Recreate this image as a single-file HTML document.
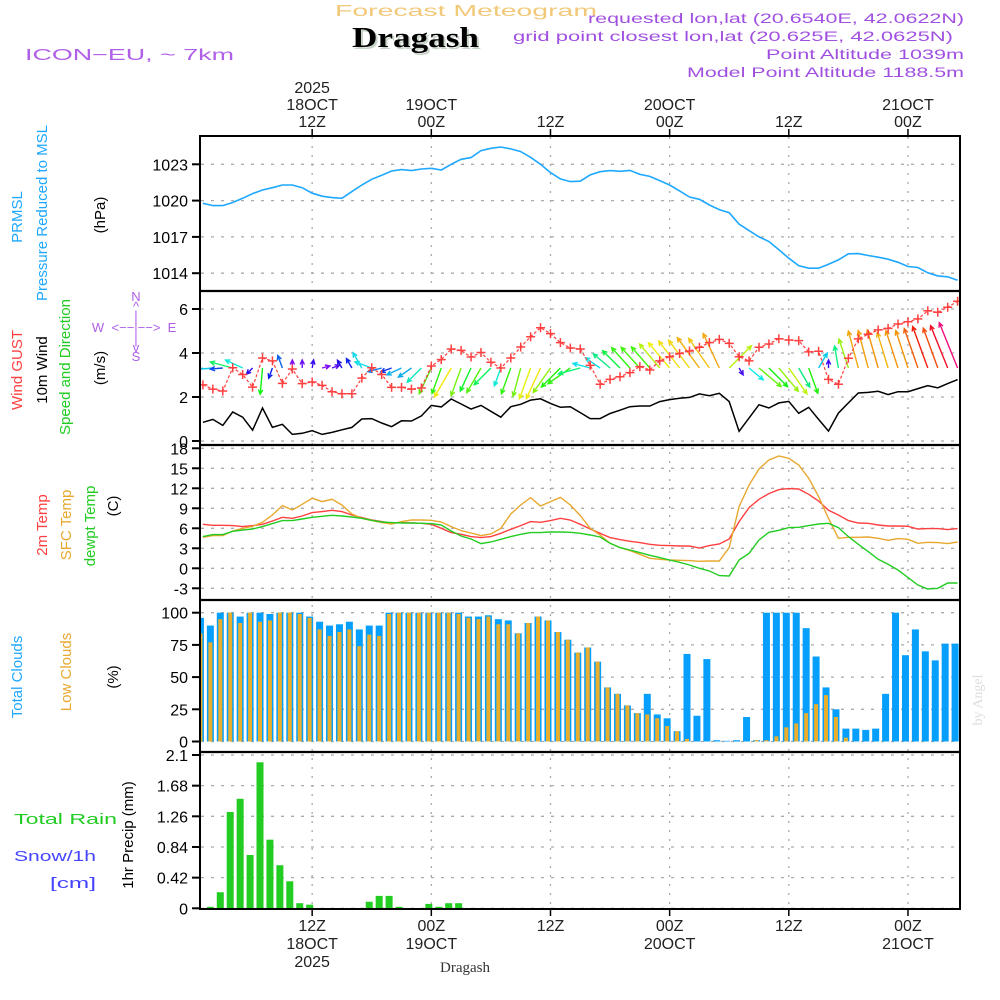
<!DOCTYPE html>
<html><head><meta charset="utf-8"><title>Forecast Meteogram Dragash</title>
<style>
html,body{margin:0;padding:0;background:#fff;}
svg{display:block;font-family:"Liberation Sans",sans-serif;}
</style></head>
<body>
<svg id="chart" width="1000" height="1000" viewBox="0 0 1000 1000" xmlns="http://www.w3.org/2000/svg">
<defs>
<clipPath id="clipPlot"><rect x="201" y="137" width="758" height="771"/></clipPath>
</defs>
<rect x="0" y="0" width="1000" height="1000" fill="#fff"/>
<text x="335" y="16" font-size="16" fill="#f2c879" textLength="262" lengthAdjust="spacingAndGlyphs">Forecast Meteogram</text>
<text x="354" y="49" font-size="28" font-weight="bold" font-family="Liberation Serif,serif" fill="#c8d4c8" textLength="127" lengthAdjust="spacingAndGlyphs">Dragash</text>
<text x="352" y="47" font-size="28" font-weight="bold" font-family="Liberation Serif,serif" fill="#000" textLength="127" lengthAdjust="spacingAndGlyphs">Dragash</text>
<text x="25" y="60" font-size="16" fill="#b060e8" textLength="209" lengthAdjust="spacingAndGlyphs">ICON−EU, ~ 7km</text>
<g fill="#a050e0" font-size="14" text-anchor="end">
<text x="964" y="23" textLength="376" lengthAdjust="spacingAndGlyphs">requested lon,lat (20.6540E, 42.0622N)</text>
<text x="953" y="41" textLength="440" lengthAdjust="spacingAndGlyphs">grid point closest lon,lat (20.625E, 42.0625N)</text>
<text x="964" y="59" textLength="198" lengthAdjust="spacingAndGlyphs">Point Altitude 1039m</text>
<text x="964" y="77" textLength="277" lengthAdjust="spacingAndGlyphs">Model Point Altitude 1188.5m</text>
</g>
<g id="grid"></g>
<g id="marks" clip-path="url(#clipPlot)"></g>
<g id="axes"></g>
<g id="labels">
<text transform="translate(22,217) rotate(-90)" text-anchor="middle" font-size="15" fill="#1ea8ff">PRMSL</text>
<text transform="translate(47,213) rotate(-90)" text-anchor="middle" font-size="15" fill="#1ea8ff">Pressure Reduced to MSL</text>
<text transform="translate(105,215) rotate(-90)" text-anchor="middle" font-size="15" fill="#000">(hPa)</text>
<text transform="translate(22,370) rotate(-90)" text-anchor="middle" font-size="15" fill="#ff4040">Wind GUST</text>
<text transform="translate(47,370) rotate(-90)" text-anchor="middle" font-size="15" fill="#000">10m Wind</text>
<text transform="translate(70,367) rotate(-90)" text-anchor="middle" font-size="15" fill="#22cc22">Speed and Direction</text>
<text transform="translate(105,368) rotate(-90)" text-anchor="middle" font-size="15" fill="#000">(m/s)</text>
<g fill="#b060e8" font-size="13" text-anchor="middle">
<text x="136" y="301">N</text><text x="136" y="311">^</text><text x="136" y="320">|</text>
<text x="98" y="332">W</text><text x="136" y="332">&lt;−−|−−&gt;</text><text x="172" y="332">E</text>
<text x="136" y="344">|</text><text x="136" y="352">v</text><text x="136" y="361">S</text>
</g>
<text transform="translate(47,525) rotate(-90)" text-anchor="middle" font-size="15" fill="#ff4040">2m Temp</text>
<text transform="translate(71,525) rotate(-90)" text-anchor="middle" font-size="15" fill="#e8a830">SFC Temp</text>
<text transform="translate(95,526) rotate(-90)" text-anchor="middle" font-size="15" fill="#22cc22">dewpt Temp</text>
<text transform="translate(118,506) rotate(-90)" text-anchor="middle" font-size="15" fill="#000">(C)</text>
<text transform="translate(22,677) rotate(-90)" text-anchor="middle" font-size="15" fill="#1ea8ff">Total Clouds</text>
<text transform="translate(71,672) rotate(-90)" text-anchor="middle" font-size="15" fill="#e8a830">Low Clouds</text>
<text transform="translate(118,677) rotate(-90)" text-anchor="middle" font-size="15" fill="#000">(%)</text>
<text x="14" y="824" font-size="15" fill="#22cc22" textLength="103" lengthAdjust="spacingAndGlyphs">Total  Rain</text>
<text x="14" y="861" font-size="15" fill="#4444ff" textLength="82" lengthAdjust="spacingAndGlyphs">Snow/1h</text>
<text x="50" y="888" font-size="15" fill="#4444ff" textLength="46" lengthAdjust="spacingAndGlyphs">[cm]</text>
<text transform="translate(133,835) rotate(-90)" text-anchor="middle" font-size="15" fill="#000">1hr Precip (mm)</text>
<text x="465" y="972" text-anchor="middle" font-size="15" font-family="Liberation Serif,serif" fill="#333">Dragash</text>
<text transform="translate(982,700) rotate(-90)" text-anchor="middle" font-size="14" font-family="Liberation Serif,serif" fill="#dddddd">by Angel</text>
</g>
</svg>
<script>
var pressure=[1019.78,1019.59,1019.59,1019.84,1020.19,1020.58,1020.88,1021.07,1021.29,1021.29,1021.07,1020.61,1020.36,1020.25,1020.19,1020.74,1021.29,1021.76,1022.09,1022.45,1022.56,1022.48,1022.61,1022.67,1022.53,1023.0,1023.41,1023.55,1024.13,1024.32,1024.43,1024.27,1024.05,1023.58,1023.0,1022.31,1021.79,1021.57,1021.6,1022.12,1022.39,1022.48,1022.42,1022.5,1022.17,1022.0,1021.65,1021.29,1020.8,1020.3,1020.11,1019.64,1019.26,1019.0,1018.05,1017.52,1017.0,1016.62,1015.93,1015.24,1014.63,1014.41,1014.41,1014.74,1015.1,1015.6,1015.62,1015.46,1015.32,1015.16,1014.9,1014.55,1014.47,1014.03,1013.78,1013.7,1013.42];
var wind10=[0.85,0.98,0.71,1.32,1.08,0.49,1.5,0.62,0.76,0.30,0.35,0.47,0.30,0.39,0.51,0.62,1.0,1.02,0.82,0.65,0.92,0.91,1.14,1.62,1.55,1.91,1.68,1.45,1.62,1.35,1.08,1.56,1.67,1.86,1.92,1.71,1.53,1.56,1.29,1.02,1.02,1.25,1.40,1.56,1.59,1.59,1.79,1.88,1.94,1.98,2.14,2.06,2.17,1.79,0.44,1.05,1.65,1.50,1.73,1.80,1.26,1.53,0.98,0.45,1.27,1.73,2.18,2.21,2.26,2.11,2.24,2.24,2.38,2.52,2.42,2.61,2.79];
var windDir=[200,185,185,165,155,225,265,250,110,90,90,80,15,20,120,120,120,160,195,200,205,215,225,245,250,240,250,245,240,225,250,250,255,250,245,235,225,215,195,165,145,140,135,132,132,131,130,130,128,127,126,125,115,45,300,320,320,315,310,305,300,290,60,90,100,108,105,105,106,107,108,108,109,110,110,112,112];
var gust=[2.55,2.36,2.27,3.33,3.02,2.45,3.77,3.64,2.62,3.27,2.61,2.68,2.53,2.24,2.15,2.15,2.86,3.33,3.02,2.44,2.44,2.36,2.41,3.41,3.70,4.18,4.12,3.82,4.02,3.58,3.32,3.77,4.27,4.74,5.15,4.88,4.47,4.23,4.18,3.44,2.58,2.80,2.92,3.11,3.38,3.23,3.64,3.83,3.98,4.09,4.26,4.47,4.62,4.44,3.83,3.64,4.26,4.41,4.65,4.59,4.56,4.05,4.08,2.80,2.58,3.76,4.64,4.85,5.05,5.12,5.32,5.42,5.55,5.92,5.85,6.08,6.35];
var t2m=[6.6,6.45,6.45,6.4,6.25,6.4,6.6,7.1,7.65,7.5,7.85,8.35,8.5,8.7,8.5,8.0,7.6,7.25,7.0,6.75,6.85,6.8,6.75,6.6,6.0,5.35,5.1,4.75,4.6,4.75,5.25,5.85,6.4,7.0,6.9,7.15,7.5,7.25,6.6,5.9,5.25,4.6,4.3,4.05,3.85,3.6,3.45,3.4,3.35,3.35,3.05,3.4,3.65,4.4,7.0,9.1,10.35,11.2,11.8,11.95,11.9,11.1,10.1,8.7,8.0,7.15,6.8,6.75,6.5,6.35,6.35,6.3,5.9,5.95,5.95,5.8,5.95];
var sfcT=[4.65,4.9,4.9,5.6,6.0,6.3,6.9,8.0,9.4,8.75,9.6,10.5,10.0,10.35,9.5,8.15,7.5,7.15,6.85,6.65,7.0,7.25,7.25,7.2,6.95,6.25,5.65,5.3,4.9,5.15,6.0,8.15,9.5,10.6,9.35,10.0,10.65,9.5,7.9,6.0,5.0,3.75,3.1,2.65,2.1,1.5,1.35,1.25,1.2,1.15,1.05,1.1,1.1,3.1,9.25,12.5,14.9,16.25,16.85,16.5,15.5,13.5,10.75,7.5,4.5,4.65,4.65,4.7,4.5,4.2,4.45,4.35,3.75,3.9,3.85,3.7,3.95];
var dewT=[4.75,5.05,5.05,5.55,5.75,5.9,6.25,6.7,7.15,7.15,7.4,7.65,7.8,7.95,7.85,7.7,7.5,7.2,6.95,6.85,6.8,6.8,6.75,6.7,6.5,5.6,4.85,4.4,3.7,3.95,4.35,4.75,5.1,5.35,5.35,5.45,5.45,5.4,5.25,5.0,4.7,3.75,3.1,2.75,2.35,1.95,1.6,1.25,0.9,0.5,0,-0.4,-1.1,-1.15,1.25,2.25,4.25,5.4,5.7,6.1,6.15,6.4,6.65,6.75,6.1,4.75,3.6,2.5,1.35,0.6,-0.25,-1.4,-2.5,-3.1,-3.0,-2.2,-2.2];
var totalClouds=[96,90,100,100,97,100,100,99,100,100,100,97,93,90,91,93,87,90,90,100,100,100,100,100,100,100,100,97,97,98,95,94,84,92,97,94,85,79,69,73,62,42,37,28,22,37,21,18,8,68,20,64,1,0.5,1,19,1,100,100,100,100,88,66,42,25,10,10,9,10,37,100,67,87,70,63,76,76];
var lowClouds=[84,77,95,100,92,100,93,94,100,100,99,96,87,82,85,87,74,83,82,99,100,100,100,100,100,100,99,96,95,97,91,91,84,92,97,94,85,79,69,73,62,42,37,28,22,21,18,12,8,2,0,0,0,0,0,0,1,1,4,11,14,22,29,36,19,3,0,0,0,0,0,0,0,0,0,0,0];
var precip=[0,0.02,0.22,1.32,1.50,0.73,2.0,0.94,0.59,0.37,0.07,0.05,0,0,0,0,0,0.09,0.17,0.17,0.02,0,0,0.06,0.02,0.07,0.07,0,0,0,0,0,0,0,0,0,0,0,0,0,0,0,0,0,0,0,0,0,0,0,0,0,0,0,0,0,0,0,0,0,0,0,0,0,0,0,0,0,0,0,0,0,0,0,0,0,0];
var pressTicks=[1014,1017,1020,1023];
var windTicks=[0,2,4,6];
var tempTicks=[-3,0,3,6,9,12,15,18];
var cloudTicks=[0,25,50,75,100];
var precipTicks=[0,0.42,0.84,1.26,1.68,2.1];
var precipTickLabels=["0","0.42","0.84","1.26","1.68","2.1"];
var timeTickHours=[12,24,36,48,60,72];
var topLabels=[["2025","18OCT","12Z"],["","19OCT","00Z"],["","","12Z"],["","20OCT","00Z"],["","","12Z"],["","21OCT","00Z"]];
var bottomLabels=[["12Z","18OCT","2025"],["00Z","19OCT",""],["12Z","",""],["00Z","20OCT",""],["12Z","",""],["00Z","21OCT",""]];

var NS="http://www.w3.org/2000/svg";
function xH(n){return 193+9.93*n;}
function yP(v){return 164.3+(1023-v)*12.1;}
function yW(v){return 441-22*v;}
function yT(v){return 568.3-6.667*v;}
function yC(v){return 741.5-1.288*v;}
function yR(v){return 908.3-73*v;}
function mk(tag,attrs,parent){var e=document.createElementNS(NS,tag);for(var k in attrs)e.setAttribute(k,attrs[k]);parent.appendChild(e);return e;}
var grid=document.getElementById('grid'),marks=document.getElementById('marks'),axes=document.getElementById('axes');

var panels=[{top:137,bot:290,ticks:pressTicks,fy:yP,labs:pressTicks.map(String),name:'pressure'},
{top:291,bot:445,ticks:windTicks,fy:yW,labs:windTicks.map(String),name:'wind'},
{top:445,bot:600,ticks:tempTicks,fy:yT,labs:tempTicks.map(String),name:'temp'},
{top:600,bot:752,ticks:cloudTicks,fy:yC,labs:cloudTicks.map(String),name:'cloud'},
{top:752,bot:908,ticks:precipTicks,fy:yR,labs:precipTickLabels,name:'precip'}];

panels.forEach(function(p){
  p.ticks.forEach(function(v,i){
    var y=p.fy(v);
    var g=mk('line',{x1:201,x2:959,y1:y,y2:y,stroke:'#aaa','stroke-width':1.3,'stroke-dasharray':'3,7'},grid);
    
    
    var t=mk('line',{x1:192,x2:200,y1:y,y2:y,stroke:'#000','stroke-width':2},axes);
    
    
    var tx=mk('text',{x:188,y:y+6,'text-anchor':'end','font-size':16,fill:'#000'},axes);
    tx.textContent=p.labs[i];
    
    
  });
});
timeTickHours.forEach(function(h,i){
  var x=xH(h);
  var g=mk('line',{x1:x,x2:x,y1:137,y2:908,stroke:'#aaa','stroke-width':1.3,'stroke-dasharray':'2,7'},grid);
  
  
  var t1=mk('line',{x1:x,x2:x,y1:129,y2:136,stroke:'#000','stroke-width':1.5},axes);
  
  
  var t2=mk('line',{x1:x,x2:x,y1:909,y2:916,stroke:'#000','stroke-width':1.5},axes);
  
  
  topLabels[i].forEach(function(s,j){ if(!s)return;
    var t=mk('text',{x:x,y:93+j*17,'text-anchor':'middle','font-size':16,fill:'#222'},axes);
    t.textContent=s;
    
    
  });
  bottomLabels[i].forEach(function(s,j){ if(!s)return;
    var t=mk('text',{x:x,y:931+j*18,'text-anchor':'middle','font-size':16,fill:'#222'},axes);
    t.textContent=s;
    
    
  });
});

function line(arr,fy,color,w,name,dash){
  var d=arr.map(function(v,i){return (i?'L':'M')+xH(i+1).toFixed(1)+','+fy(v).toFixed(1);}).join('');
  var p=mk('path',{d:d,fill:'none',stroke:color,'stroke-width':w},marks);
  if(dash)p.setAttribute('stroke-dasharray',dash);
  
  
  return p;
}
line(pressure,yP,'#1ea8ff',1.6,'pressure-line');

totalClouds.forEach(function(v,i){
  var x=xH(i+1)-2.5;
  var r=mk('rect',{x:x-3.5,y:yC(v),width:7,height:yC(0)-yC(v),fill:'#069ffc'},marks);
  
  
});
lowClouds.forEach(function(v,i){
  var x=xH(i+1)-2.5;
  var r=mk('rect',{x:x-2,y:yC(v),width:4,height:yC(0)-yC(v),fill:'#e8ae2c'},marks);
  
  
});
precip.forEach(function(v,i){
  if(v<=0)return;
  var x=xH(i+1)-2.5;
  var r=mk('rect',{x:x-3.5,y:yR(v),width:7,height:yR(0)-yR(v),fill:'#22cc22'},marks);
  
  
});

line(t2m,yT,'#ff4040',1.4,'t2m-line');
line(sfcT,yT,'#e8a830',1.4,'sfc-temp-line');
line(dewT,yT,'#22cc22',1.4,'dewpoint-line');

line(wind10,yW,'#000',1.5,'wind10m-line');
function spdColor(s){
  var stops=[[0.3,270],[0.7,225],[1.0,185],[1.5,120],[1.9,58],[2.3,32],[2.8,330]];
  var h;
  if(s<=stops[0][0])h=stops[0][1];else if(s>=stops[stops.length-1][0])h=stops[stops.length-1][1];
  else{for(var i=0;i<stops.length-1;i++){if(s>=stops[i][0]&&s<=stops[i+1][0]){var f=(s-stops[i][0])/(stops[i+1][0]-stops[i][0]);var a=stops[i][1],b=stops[i+1][1];if(b>a&&i==stops.length-2)b=b-360;h=a+(b-a)*f;if(h<0)h+=360;break;}}}
  return 'hsl('+h.toFixed(0)+',90%,'+(h>150&&h<250?'48%':'50%')+')';
}
windDir.forEach(function(dg,i){
  var s=wind10[i];
  var L=Math.max(8,17.5*s);
  var a=dg*Math.PI/180;
  var x0=xH(i+1),y0=368;
  var x1=x0+L*Math.cos(a),y1=y0-L*Math.sin(a);
  var c=spdColor(s);
  var h=5;
  var a1=a+Math.PI-0.45,a2=a+Math.PI+0.45;
  var d='M'+x0.toFixed(1)+','+y0+'L'+x1.toFixed(1)+','+y1.toFixed(1)+
    'M'+(x1+h*Math.cos(a1)).toFixed(1)+','+(y1-h*Math.sin(a1)).toFixed(1)+'L'+x1.toFixed(1)+','+y1.toFixed(1)+
    'L'+(x1+h*Math.cos(a2)).toFixed(1)+','+(y1-h*Math.sin(a2)).toFixed(1);
  var p=mk('path',{d:d,fill:'none',stroke:c,'stroke-width':1.4},marks);
  
  
});
line(gust,yW,'#ff4040',1.2,'gust-line','3,2');
gust.forEach(function(v,i){
  var x=xH(i+1),y=yW(v);
  var p=mk('path',{d:'M'+(x-4.5)+','+y+'H'+(x+4.5)+'M'+x+','+(y-4.5)+'V'+(y+4.5),stroke:'#ff4040','stroke-width':1.5,fill:'none'},marks);
  
  
});

var fr=mk('rect',{x:200,y:136,width:760,height:773,fill:'none',stroke:'#000','stroke-width':2},axes);


[291,445,600,752].forEach(function(y){
  var l=mk('line',{x1:200,x2:960,y1:y,y2:y,stroke:'#000','stroke-width':2.2},axes);
  
  
});
</script>
</body></html>
